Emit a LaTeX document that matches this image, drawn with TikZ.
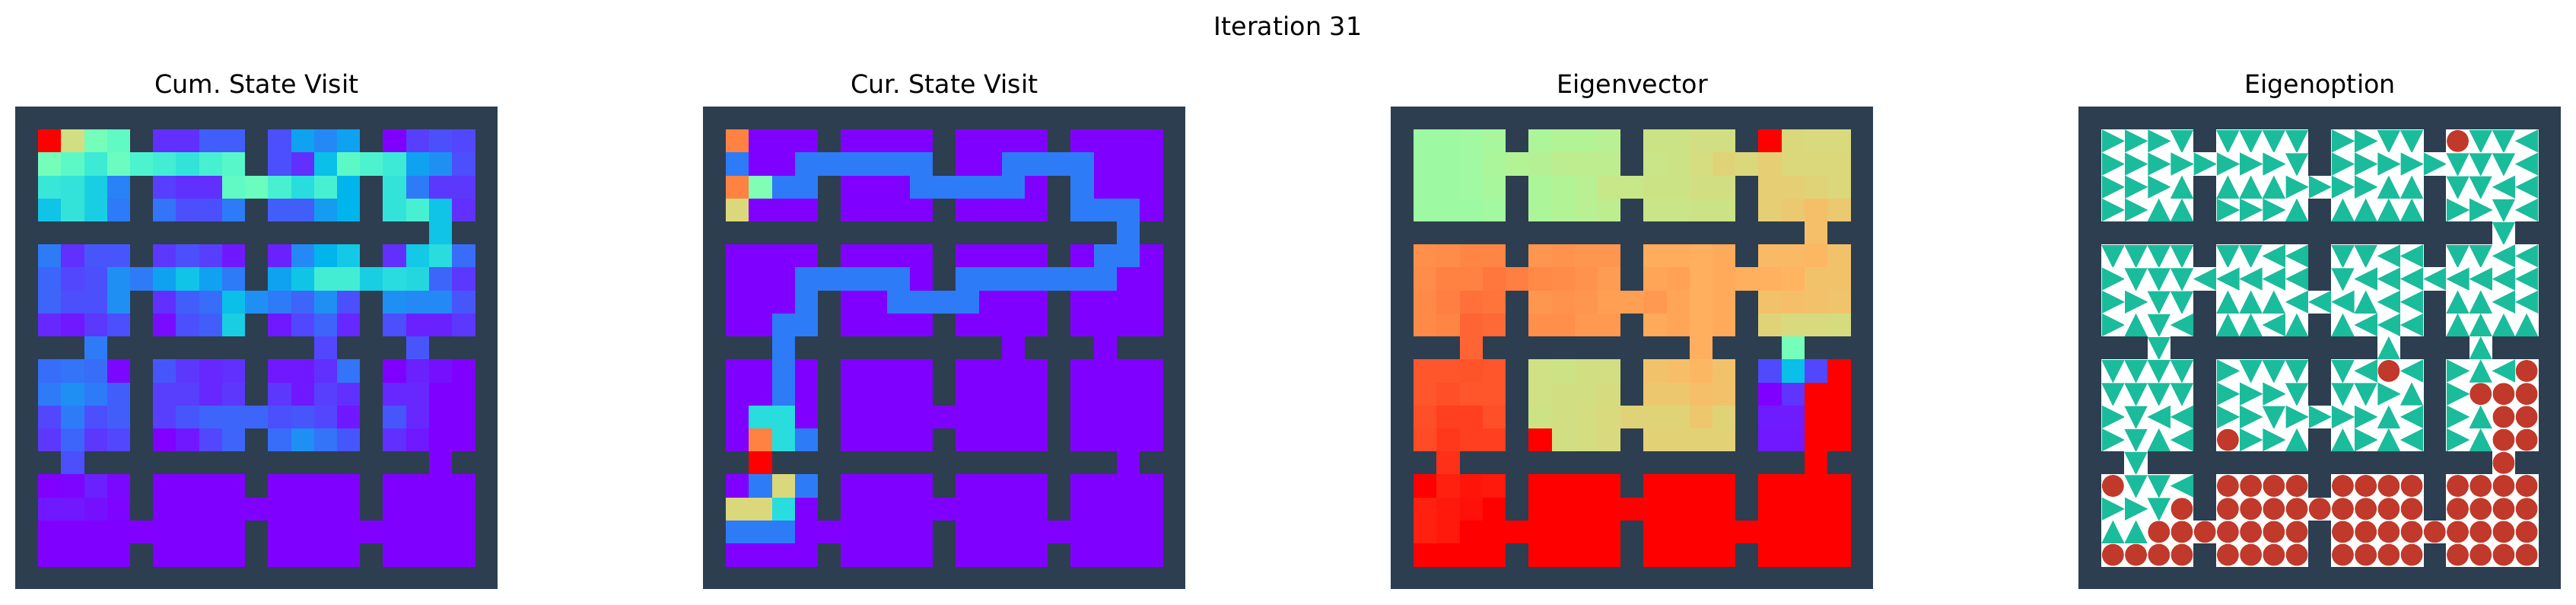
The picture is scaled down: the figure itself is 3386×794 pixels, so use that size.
\documentclass[tikz,border=0pt]{standalone}
\usepackage{fontspec}
\setmainfont{DejaVu Sans}
\frenchspacing
\definecolor{wallc}{HTML}{2C3E50}
\definecolor{teal}{HTML}{1ABC9C}
\definecolor{goalc}{HTML}{C0392B}
\tikzset{
  paneltitle/.style={anchor=base,inner sep=0pt,font=\fontsize{16.67}{20}\selectfont,text=black},
  panelframe/.style={shift={(#1,140)},x=15.105pt,y=-15.105pt}
}
\newcommand\heatcell[3]{%
  \pgfmathsetmacro\colR{min(1,abs(2*#3-.5))}%
  \pgfmathsetmacro\colG{max(0,sin(180*#3))}%
  \pgfmathsetmacro\colB{max(0,cos(90*#3))}%
  \definecolor{hc}{rgb}{\colR,\colG,\colB}%
  \fill[hc] (#1,#2) rectangle +(1.01,1.01);}
\newcommand\heatrow[2]{\foreach \val [count=\cc] in {#2} {\ifdim\val pt<0pt\else\heatcell{\cc}{#1}{\val}\fi}}
\newcommand\walls{\fill[wallc] (0,0) rectangle (21,21);}
% policy glyphs
\newcommand\optR[2]{\fill[white] (#1,#2) rectangle +(1.01,1.01);\fill[teal] (#1+.02,#2) -- (#1+1.02,#2+.5) -- (#1+.02,#2+1) -- cycle;}
\newcommand\optL[2]{\fill[white] (#1,#2) rectangle +(1.01,1.01);\fill[teal] (#1+1,#2) -- (#1,#2+.5) -- (#1+1,#2+1) -- cycle;}
\newcommand\optU[2]{\fill[white] (#1,#2) rectangle +(1.01,1.01);\fill[teal] (#1,#2+1) -- (#1+.5,#2) -- (#1+1,#2+1) -- cycle;}
\newcommand\optD[2]{\fill[white] (#1,#2) rectangle +(1.01,1.01);\fill[teal] (#1,#2+.03) -- (#1+1,#2+.03) -- (#1+.5,#2+1.03) -- cycle;}
\newcommand\optO[2]{\fill[white] (#1,#2) rectangle +(1.01,1.01);\fill[goalc] (#1+.5,#2+.5) circle (.475);}
\newcommand\optx[2]{}
\newcommand\optrow[2]{\foreach \val [count=\cc] in {#2} {\csname opt\val\endcsname{\cc}{#1}}}
\begin{document}
\begin{tikzpicture}[x=0.5pt,y=-0.5pt]
\useasboundingbox (0,0) rectangle (3386,794);
\fill[white] (0,0) rectangle (3386,794);
\node[paneltitle] (sup) at (1693,46) {Iteration 31};
\node[paneltitle] (t1) at (337.5,122.5) {Cum. State Visit};
\node[paneltitle] (t2) at (1241.5,122.5) {Cur. State Visit};
\node[paneltitle] (t3) at (2145.5,122.5) {Eigenvector};
\node[paneltitle] (t4) at (3049.5,122.5) {Eigenoption};
% Panel 1
\begin{scope}[panelframe=20]
\walls
\heatrow{1}{1,.66,.48,.44,-1,.06,.06,.12,.12,-1,.10,.22,.18,.22,-1,0,.08,.10,.09}
\heatrow{2}{.48,.43,.37,.46,.40,.38,.35,.39,.42,-1,.10,.06,.27,.43,.40,.37,.22,.19,.10}
\heatrow{3}{.36,.35,.30,.17,-1,.08,.06,.06,.44,.46,.39,.33,.39,.25,-1,.35,.16,.07,.07}
\heatrow{4}{.28,.35,.30,.16,-1,.15,.10,.10,.16,-1,.12,.12,.21,.25,-1,.35,.39,.28,.06}
\heatcell{18}{5}{.28}
\heatrow{6}{.16,.06,.11,.11,-1,.07,.10,.08,.03,-1,.04,.18,.25,.29,-1,.06,.29,.33,.14}
\heatrow{7}{.13,.09,.10,.19,.16,.22,.28,.22,.16,-1,.22,.28,.38,.38,.30,.33,.32,.13,.07}
\heatrow{8}{.13,.10,.10,.19,-1,.06,.12,.14,.27,.19,.16,.13,.19,.10,-1,.19,.18,.18,.11}
\heatrow{9}{.05,.03,.07,.10,-1,.015,.10,.12,.30,-1,.03,.09,.13,.05,-1,.10,.04,.04,.07}
\heatcell{3}{10}{.16}\heatcell{13}{10}{.09}\heatcell{17}{10}{.11}
\heatrow{11}{.14,.15,.14,.01,-1,.11,.07,.05,.06,-1,.03,.03,.06,.15,-1,0,.04,.02,0}
\heatrow{12}{.16,.19,.16,.12,-1,.08,.08,.05,.07,-1,.07,.03,.08,.06,-1,.05,.05,0,0}
\heatrow{13}{.09,.16,.10,.12,-1,.08,.11,.13,.13,.13,.10,.11,.09,.03,-1,.11,.05,0,0}
\heatrow{14}{.07,.13,.07,.09,-1,0,.03,.09,.13,-1,.14,.19,.15,.11,-1,.06,.03,0,0}
\heatcell{2}{15}{.10}\heatcell{18}{15}{0}
\heatrow{16}{0,.005,.04,.01,-1,0,0,0,0,-1,0,0,0,0,-1,0,0,0,0}
\heatrow{17}{.03,.03,.02,.005,-1,0,0,0,0,0,0,0,0,0,-1,0,0,0,0}
\heatrow{18}{0,0,0,0,0,0,0,0,0,-1,0,0,0,0,0,0,0,0,0}
\heatrow{19}{0,0,0,0,-1,0,0,0,0,-1,0,0,0,0,-1,0,0,0,0}
\end{scope}
% Panel 2
\begin{scope}[panelframe=924]
\walls
\heatrow{1}{.83,0,0,0,-1,0,0,0,0,-1,0,0,0,0,-1,0,0,0,0}
\heatrow{2}{.16,0,0,.16,.16,.16,.16,.16,.16,-1,0,0,.16,.16,.16,.16,0,0,0}
\heatrow{3}{.83,.5,.16,.16,-1,0,0,0,.16,.16,.16,.16,.16,0,-1,.16,0,0,0}
\heatrow{4}{.68,0,0,0,-1,0,0,0,0,-1,0,0,0,0,-1,.16,.16,.16,0}
\heatcell{18}{5}{.16}
\heatrow{6}{0,0,0,0,-1,0,0,0,0,-1,0,0,0,0,-1,0,.16,.16,0}
\heatrow{7}{0,0,0,.16,.16,.16,.16,.16,0,-1,.16,.16,.16,.16,.16,.16,.16,0,0}
\heatrow{8}{0,0,0,.16,-1,0,0,.16,.16,.16,.16,0,0,0,-1,0,0,0,0}
\heatrow{9}{0,0,.16,.16,-1,0,0,0,0,-1,0,0,0,0,-1,0,0,0,0}
\heatcell{3}{10}{.16}\heatcell{13}{10}{0}\heatcell{17}{10}{0}
\heatrow{11}{0,0,.16,0,-1,0,0,0,0,-1,0,0,0,0,-1,0,0,0,0}
\heatrow{12}{0,0,.16,0,-1,0,0,0,0,-1,0,0,0,0,-1,0,0,0,0}
\heatrow{13}{0,.33,.33,0,-1,0,0,0,0,0,0,0,0,0,-1,0,0,0,0}
\heatrow{14}{0,.83,.33,.16,-1,0,0,0,0,-1,0,0,0,0,-1,0,0,0,0}
\heatcell{2}{15}{1}\heatcell{18}{15}{0}
\heatrow{16}{0,.16,.68,.16,-1,0,0,0,0,-1,0,0,0,0,-1,0,0,0,0}
\heatrow{17}{.68,.68,.33,0,-1,0,0,0,0,0,0,0,0,0,-1,0,0,0,0}
\heatrow{18}{.16,.16,.16,0,0,0,0,0,0,-1,0,0,0,0,0,0,0,0,0}
\heatrow{19}{0,0,0,0,-1,0,0,0,0,-1,0,0,0,0,-1,0,0,0,0}
\end{scope}
% Panel 3
\begin{scope}[panelframe=1828]
\walls
\heatrow{1}{.56,.56,.565,.58,-1,.59,.60,.60,.61,-1,.65,.65,.66,.66,-1,1,.68,.675,.675}
\heatrow{2}{.56,.56,.565,.585,.60,.605,.62,.62,.62,-1,.645,.65,.665,.69,.68,.70,.68,.68,.68}
\heatrow{3}{.56,.56,.565,.58,-1,.59,.60,.61,.64,.64,.65,.65,.66,.66,-1,.70,.70,.69,.68}
\heatrow{4}{.56,.56,.56,.57,-1,.59,.60,.61,.62,-1,.645,.645,.65,.65,-1,.70,.71,.73,.71}
\heatcell{18}{5}{.73}
\heatrow{6}{.81,.815,.825,.825,-1,.80,.805,.80,.80,-1,.765,.765,.76,.77,-1,.74,.74,.745,.725}
\heatrow{7}{.815,.83,.83,.845,.835,.82,.815,.805,.79,-1,.775,.78,.76,.77,.76,.755,.75,.725,.725}
\heatrow{8}{.82,.835,.855,.85,-1,.80,.805,.80,.785,.785,.795,.775,.76,.77,-1,.725,.73,.725,.72}
\heatrow{9}{.82,.825,.87,.865,-1,.81,.81,.795,.795,-1,.77,.775,.76,.77,-1,.69,.675,.675,.67}
\heatcell{3}{10}{.87}\heatcell{13}{10}{.76}\heatcell{17}{10}{.48}
\heatrow{11}{.89,.89,.895,.89,-1,.655,.65,.66,.66,-1,.725,.735,.745,.725,-1,.095,.27,.09,1}
\heatrow{12}{.89,.90,.89,.89,-1,.655,.66,.66,.67,-1,.715,.715,.73,.725,-1,0,.065,1,1}
\heatrow{13}{.90,.92,.92,.90,-1,.65,.66,.665,.675,.69,.69,.69,.715,.69,-1,.035,.035,1,1}
\heatrow{14}{.905,.93,.92,.92,-1,1,.66,.665,.675,-1,.695,.695,.695,.695,-1,.03,.03,1,1}
\heatcell{2}{15}{.94}\heatcell{18}{15}{1}
\heatrow{16}{1,.96,.975,.97,-1,1,1,1,1,-1,1,1,1,1,-1,1,1,1,1}
\heatrow{17}{.96,.97,.98,1,-1,1,1,1,1,1,1,1,1,1,-1,1,1,1,1}
\heatrow{18}{.96,.97,1,1,1,1,1,1,1,-1,1,1,1,1,1,1,1,1,1}
\heatrow{19}{1,1,1,1,-1,1,1,1,1,-1,1,1,1,1,-1,1,1,1,1}
\end{scope}
% Panel 4
\begin{scope}[panelframe=2732]
\walls
\optrow{1}{R,R,R,D,x,D,D,D,D,x,R,R,D,D,x,O,D,D,L}
\optrow{2}{R,R,R,R,R,R,R,R,D,x,R,R,R,R,R,D,D,D,L}
\optrow{3}{R,R,R,U,x,U,U,U,R,R,R,R,U,U,x,D,D,L,L}
\optrow{4}{R,R,U,U,x,R,R,R,U,x,U,U,U,U,x,R,R,D,L}
\optD{18}{5}
\optrow{6}{D,D,D,D,x,D,D,L,L,x,D,D,L,L,x,D,D,L,L}
\optrow{7}{R,D,D,D,L,L,L,L,L,x,D,L,L,L,L,L,L,L,L}
\optrow{8}{R,R,D,D,x,U,U,U,L,L,L,U,L,L,x,U,U,L,L}
\optrow{9}{R,U,D,L,x,U,U,L,U,x,U,L,L,L,x,U,U,U,U}
\optD{3}{10}\optU{13}{10}\optU{17}{10}
\optrow{11}{D,D,D,D,x,R,D,D,D,x,D,L,O,L,x,R,U,L,O}
\optrow{12}{D,D,D,D,x,R,R,R,D,x,D,D,R,U,x,R,O,O,O}
\optrow{13}{R,D,L,L,x,R,R,D,R,R,R,R,U,L,x,R,U,O,O}
\optrow{14}{R,D,U,L,x,O,R,R,U,x,U,R,U,L,x,R,U,O,O}
\optD{2}{15}\optO{18}{15}
\optrow{16}{O,D,D,L,x,O,O,O,O,x,O,O,O,O,x,O,O,O,O}
\optrow{17}{R,R,D,O,x,O,O,O,O,O,O,O,O,O,x,O,O,O,O}
\optrow{18}{U,U,O,O,O,O,O,O,O,x,O,O,O,O,O,O,O,O,O}
\optrow{19}{O,O,O,O,x,O,O,O,O,x,O,O,O,O,x,O,O,O,O}
\end{scope}
\end{tikzpicture}
\end{document}
